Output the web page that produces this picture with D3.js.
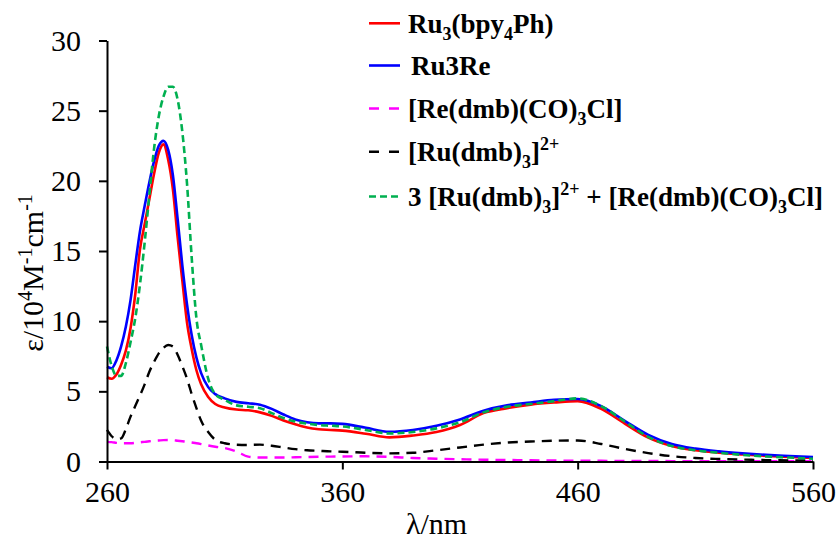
<!DOCTYPE html>
<html><head><meta charset="utf-8">
<script src="https://cdn.jsdelivr.net/npm/d3@7"></script>
<style>body{margin:0;background:#fff}svg{display:block}</style>
</head><body>
<svg id="chart" width="838" height="541"></svg>
<script>
const wavelengths = [260,262,264,266,268,270,272,274,276,278,280,282,284,286,288,290,292,294,296,298,300,303,306,310,315,320,325,330,335,340,345,350,355,360,370,380,390,400,410,420,430,440,450,460,470,480,490,500,510,520,530,540,550,560];
const ru3bpy = [6.0,5.9,6.2,6.9,7.9,9.5,11.9,15.1,16.9,18.7,20.5,22.0,22.6,21.5,19.4,16.0,12.9,9.9,8.0,6.5,5.5,4.6,4.1,3.85,3.7,3.65,3.5,3.25,2.92,2.65,2.42,2.3,2.25,2.2,1.98,1.72,1.85,2.1,2.6,3.45,3.8,4.05,4.2,4.3,3.75,2.7,1.7,1.1,0.8,0.62,0.5,0.4,0.32,0.26];
const ru3re = [6.75,6.65,7.2,8.2,9.6,11.5,14.0,16.4,18.2,19.9,21.4,22.5,22.85,22.2,20.4,17.3,14.0,11.2,9.0,7.4,6.3,5.3,4.8,4.5,4.25,4.15,4.05,3.75,3.35,3.0,2.8,2.72,2.72,2.68,2.4,2.12,2.25,2.55,3.0,3.62,4.0,4.2,4.4,4.45,3.95,2.9,1.9,1.25,0.92,0.72,0.58,0.47,0.39,0.32];
const reDmb = [1.4,1.38,1.33,1.3,1.3,1.3,1.33,1.37,1.4,1.44,1.48,1.5,1.52,1.53,1.52,1.48,1.44,1.4,1.35,1.3,1.24,1.14,1.05,0.96,0.72,0.35,0.28,0.28,0.28,0.3,0.32,0.34,0.35,0.36,0.37,0.33,0.25,0.2,0.16,0.13,0.11,0.09,0.07,0.06,0.05,0.04,0.04,0.03,0.03,0.03,0.02,0.02,0.02,0.02];
const ruDmb = [2.25,1.8,1.6,1.65,2.3,3.2,3.95,4.7,5.5,6.4,7.1,7.7,8.1,8.3,8.2,7.6,6.8,5.9,4.8,3.8,2.9,2.1,1.55,1.3,1.2,1.18,1.2,1.12,1.0,0.88,0.8,0.76,0.72,0.7,0.62,0.58,0.62,0.8,1.0,1.2,1.35,1.42,1.48,1.5,1.25,0.9,0.6,0.38,0.25,0.18,0.14,0.1,0.08,0.06];
const sumMix = [8.2,6.8,6.1,6.1,7.0,8.5,10.2,12.6,15.6,19.0,22.3,24.6,26.0,26.7,26.7,25.8,23.5,19.8,14.5,10.2,8.3,5.9,4.8,4.4,4.0,3.9,3.8,3.45,3.1,2.85,2.7,2.6,2.55,2.5,2.25,2.0,2.1,2.36,2.8,3.5,3.9,4.1,4.3,4.5,3.95,2.85,1.75,1.1,0.8,0.62,0.47,0.36,0.28,0.2];
const xTicks = [260,360,460,560];
const yTicks = [0,5,10,15,20,25,30];

const series = [
  {values: ru3bpy, color: "#ff0000", dash: null, width: 2.6},
  {values: ru3re, color: "#0000ff", dash: null, width: 2.6},
  {values: reDmb, color: "#ff00ff", dash: "10,7", width: 2.4},
  {values: ruDmb, color: "#000000", dash: "10,7", width: 2.4},
  {values: sumMix, color: "#00b050", dash: "7,4", width: 2.6}
];

const svg = d3.select("#chart");
const x = d3.scaleLinear().domain([260,560]).range([107,813]);
const y = d3.scaleLinear().domain([0,30]).range([461.5,40.5]);

const line = d3.line().x((d,i)=>x(wavelengths[i])).y(d=>y(d)).curve(d3.curveMonotoneX);
svg.append("g").selectAll("path").data(series).join("path")
  .attr("d", s=>line(s.values))
  .attr("fill","none")
  .attr("stroke", s=>s.color)
  .attr("stroke-width", s=>s.width)
  .attr("stroke-dasharray", s=>s.dash)
  .attr("stroke-linejoin","round");

const font = "'Liberation Serif','Times New Roman',serif";
const xAxis = svg.append("g").attr("transform","translate(0,461.5)")
  .call(d3.axisBottom(x).tickValues(xTicks).tickFormat(d3.format("d")).tickSize(8).tickSizeOuter(0).tickPadding(11));
const yAxis = svg.append("g").attr("transform","translate(107,0)")
  .call(d3.axisLeft(y).tickValues(yTicks).tickSize(8).tickSizeOuter(0).tickPadding(18));
[xAxis,yAxis].forEach(g=>{
  g.select(".domain").attr("stroke","#000").attr("stroke-width",2);
  g.selectAll(".tick line").attr("stroke","#000").attr("stroke-width",2);
  g.selectAll(".tick text").attr("font-family",font).attr("font-size",30).attr("fill","#000");
});

// axis titles
svg.append("text").attr("x",436.5).attr("y",534).attr("text-anchor","middle")
  .attr("font-family",font).attr("font-size",30).text("λ/nm");
const yt = svg.append("text").attr("transform","translate(43,273) rotate(-90)")
  .attr("text-anchor","middle").attr("font-family",font).attr("font-size",30);
yt.append("tspan").text("ε/10");
yt.append("tspan").attr("font-size",20).attr("dy",-11).text("4");
yt.append("tspan").attr("dy",11).text("M");
yt.append("tspan").attr("font-size",20).attr("dy",-11).text("-1");
yt.append("tspan").attr("dy",11).text("cm");
yt.append("tspan").attr("font-size",20).attr("dy",-11).text("-1");

// legend
const legendRows = [
  {parts:[["Ru",0],["3",1],["(bpy",0],["4",1],["Ph)",0]], color:"#ff0000", dash:null},
  {parts:[["Ru3Re",0]], color:"#0000ff", dash:null, indent:3},
  {parts:[["[Re(dmb)(CO)",0],["3",1],["Cl]",0]], color:"#ff00ff", dash:"10,10"},
  {parts:[["[Ru(dmb)",0],["3",1],["]",0],["2+",2]], color:"#000000", dash:"10,10"},
  {parts:[["3 [Ru(dmb)",0],["3",1],["]",0],["2+",2],[" + [Re(dmb)(CO)",0],["3",1],["Cl]",0]], color:"#00b050", dash:"7,4"}
];
const legendY = [23.3, 65.5, 108.5, 151.7, 196.5];
const lg = svg.append("g");
legendRows.forEach((r,i)=>{
  const yy = legendY[i];
  lg.append("line").attr("x1",369).attr("x2",400).attr("y1",yy).attr("y2",yy)
    .attr("stroke",r.color).attr("stroke-width",2.6).attr("stroke-dasharray",r.dash);
  const t = lg.append("text").attr("x",408+(r.indent||0)).attr("y",yy+9.5)
    .attr("font-family",font).attr("font-size",27).attr("font-weight","bold")
    .attr("xml:space","preserve");
  let cur = 0;
  r.parts.forEach(([s,k])=>{
    const target = k===1 ? 7 : (k===2 ? -11 : 0);
    const ts = t.append("tspan").attr("dy", target-cur).text(s);
    if(k>0) ts.attr("font-size",18);
    cur = target;
  });
});
</script>
</body></html>
